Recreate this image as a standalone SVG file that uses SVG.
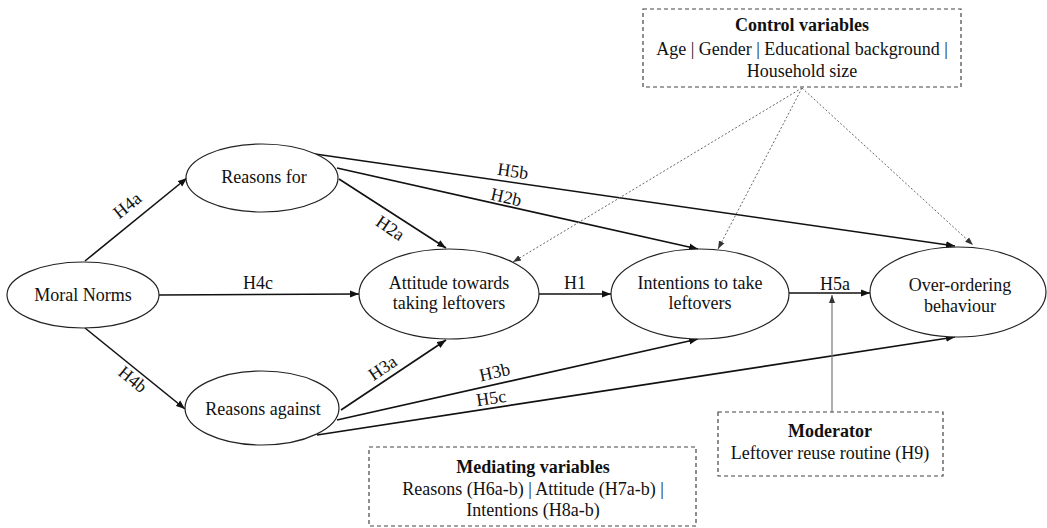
<svg xmlns="http://www.w3.org/2000/svg" width="1047" height="528" viewBox="0 0 1047 528" font-family="Liberation Serif" font-size="18">
<style>
text{fill:#111;text-anchor:middle}
.b{font-weight:bold}
.node{fill:#fff;stroke:#222;stroke-width:1.2}
.box{fill:none;stroke:#444;stroke-width:1.2;stroke-dasharray:4,3}
.e{fill:none;stroke:#111;stroke-width:1.6}
.d{fill:none;stroke:#666;stroke-width:1;stroke-dasharray:2,2}
.m{fill:none;stroke:#777;stroke-width:1.2}
</style>
<defs>
<marker id="ah" markerUnits="userSpaceOnUse" markerWidth="10" markerHeight="8" refX="9" refY="4" orient="auto"><path d="M0,0.5 L9,4 L0,7.5 Z" fill="#111"/></marker>
<marker id="ahs" markerUnits="userSpaceOnUse" markerWidth="9" markerHeight="8" refX="8" refY="4" orient="auto"><path d="M0,1 L8,4 L0,7 Z" fill="#333"/></marker>
</defs>
<rect width="1047" height="528" fill="#fff"/>
<g id="connectors">
<line class="e" x1="85" y1="261" x2="187" y2="178" marker-end="url(#ah)"/>
<line class="e" x1="85" y1="328" x2="185" y2="409" marker-end="url(#ah)"/>
<line class="e" x1="159" y1="295" x2="359" y2="294" marker-end="url(#ah)"/>
<line class="e" x1="339" y1="179" x2="446" y2="248" marker-end="url(#ah)"/>
<line class="e" x1="337" y1="168" x2="698" y2="249" marker-end="url(#ah)"/>
<line class="e" x1="315" y1="154" x2="955" y2="246" marker-end="url(#ah)"/>
<line class="e" x1="539" y1="294" x2="611" y2="294" marker-end="url(#ah)"/>
<line class="e" x1="789" y1="293" x2="870" y2="293" marker-end="url(#ah)"/>
<line class="e" x1="341" y1="410" x2="446" y2="340" marker-end="url(#ah)"/>
<line class="e" x1="337" y1="420" x2="698" y2="339" marker-end="url(#ah)"/>
<line class="e" x1="317" y1="435" x2="955" y2="337" marker-end="url(#ah)"/>
<line class="m" x1="832" y1="412" x2="832" y2="295" marker-end="url(#ahs)"/>
<line class="d" x1="802" y1="88" x2="513" y2="262" marker-end="url(#ahs)"/>
<line class="d" x1="802" y1="88" x2="718" y2="249" marker-end="url(#ahs)"/>
<line class="d" x1="802" y1="88" x2="973" y2="245" marker-end="url(#ahs)"/>
<text transform="translate(131,210) rotate(-39)">H4a</text>
<text transform="translate(129,384) rotate(39)">H4b</text>
<text x="258" y="289">H4c</text>
<text transform="translate(387,233) rotate(34)">H2a</text>
<text transform="translate(505,203) rotate(12.6)">H2b</text>
<text transform="translate(512,177) rotate(8.2)">H5b</text>
<text x="575" y="289">H1</text>
<text x="835" y="290">H5a</text>
<text transform="translate(386,373) rotate(-33.7)">H3a</text>
<text transform="translate(496,378) rotate(-12.6)">H3b</text>
<text transform="translate(492,404) rotate(-8.7)">H5c</text>
</g>
<g id="moral-norms"><ellipse class="node" cx="83" cy="295" rx="76" ry="33"/><text x="83" y="301">Moral Norms</text></g>
<g id="reasons-for"><ellipse class="node" cx="262" cy="178" rx="76" ry="34"/><text x="264" y="183">Reasons for</text></g>
<g id="reasons-against"><ellipse class="node" cx="262" cy="408" rx="77" ry="37"/><text x="263" y="415">Reasons against</text></g>
<g id="attitude"><ellipse class="node" cx="449" cy="294" rx="90" ry="45"/><text x="449" y="289">Attitude towards</text><text x="449" y="309">taking leftovers</text></g>
<g id="intentions"><ellipse class="node" cx="700" cy="294" rx="89" ry="45"/><text x="700" y="289">Intentions to take</text><text x="700" y="309">leftovers</text></g>
<g id="over-ordering"><ellipse class="node" cx="958" cy="292" rx="88" ry="45"/><text x="960" y="291">Over-ordering</text><text x="960" y="312">behaviour</text></g>
<g id="control-variables"><rect class="box" x="643" y="9" width="318" height="78"/><text class="b" x="802" y="31">Control variables</text><text x="802" y="55">Age | Gender | Educational background |</text><text x="802" y="77">Household size</text></g>
<g id="mediating-variables"><rect class="box" x="369" y="447" width="327" height="79"/><text class="b" x="533" y="473">Mediating variables</text><text x="533" y="495">Reasons (H6a-b) | Attitude (H7a-b) |</text><text x="533" y="516">Intentions (H8a-b)</text></g>
<g id="moderator"><rect class="box" x="718" y="412" width="225" height="64"/><text class="b" x="830" y="437">Moderator</text><text x="830" y="459">Leftover reuse routine (H9)</text></g>
</svg>
